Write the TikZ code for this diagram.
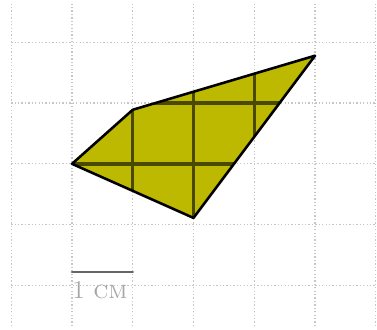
\documentclass[tikz,border=0pt]{standalone}
\usepackage{tikz}
\usepackage{color}

\definecolor{olivefill}{RGB}{189,184,0}

\tikzset{
  gridline/.style={gray!45, densely dotted, line width=0.6pt},
  shapeedge/.style={black, line width=1.2pt, line join=round},
  innerline/.style={black, opacity=0.6, line width=1.6pt},
  scalebar/.style={gray!80!black, line width=1.3pt, line cap=round}
}

\begin{document}
\begin{tikzpicture}[x=1cm, y=0.89cm]
    \useasboundingbox (-1.185,-3.07) rectangle (5.02,3.03);

    % Add grid
    \draw[gridline] (-1,-3) grid (5,3);

    % Corners of the quadrilateral
    \coordinate (A) at (0,0);
    \coordinate (B) at (1,1);
    \coordinate (C) at (4,2);
    \coordinate (D) at (2,-1);

    % Fill the shape and show the grid through it
    \fill[olivefill] (A) -- (B) -- (C) -- (D) -- cycle;
    \begin{scope}
        \clip (A) -- (B) -- (C) -- (D) -- cycle;
        \draw[innerline] (-1,-3) grid (5,3);
    \end{scope}
    \draw[shapeedge] (A) -- (B) -- (C) -- (D) -- cycle;

    % Add scale
    \coordinate (s0) at (0,-2);
    \coordinate (s1) at (1,-2);
    \draw[scalebar] (s0) -- (s1);
    \node[gray!70, anchor=north west, inner sep=0pt, font=\large] (unit) at (0,-2.17) {1 \textsc{cm}};
\end{tikzpicture}
\end{document}
